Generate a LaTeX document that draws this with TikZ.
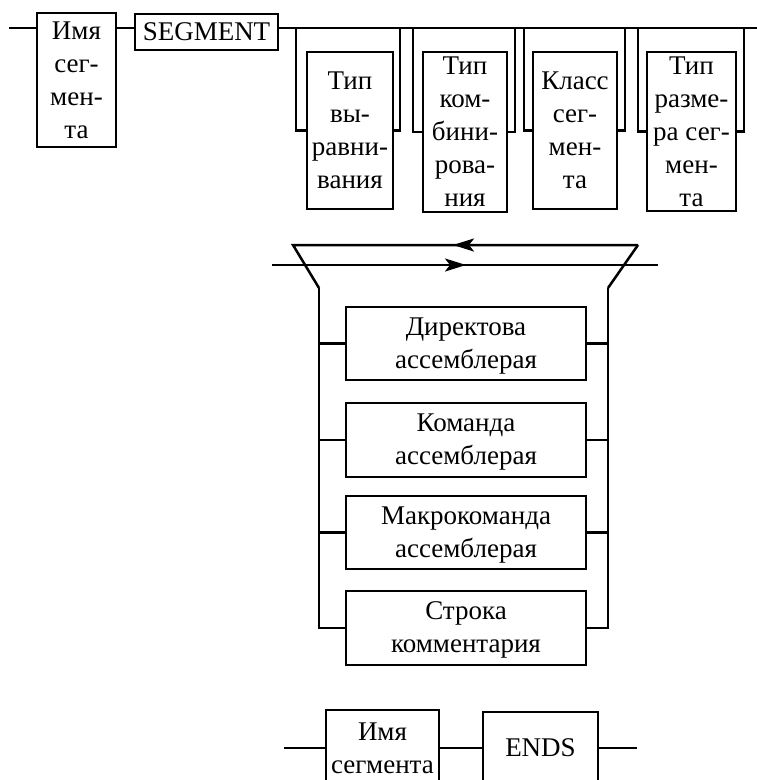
\documentclass[tikz,border=0pt]{standalone}
\usepackage{fontspec}
\setmainfont{Liberation Serif}
\usetikzlibrary{arrows.meta}
\begin{document}
\begin{tikzpicture}[x=1pt,y=-1pt,
  line width=2.5pt,
  lbl/.style={font=\fontsize{27}{33}\selectfont},
  box/.style={draw, rectangle, inner sep=0pt, align=center, lbl},
  stmt/.style={box, minimum width=240pt, text depth=1pt},
  flow/.style={-{Stealth[length=21pt,width=13pt,inset=5pt]}}]
\useasboundingbox (0,0) rectangle (757,780);
\clip (0,0) rectangle (757,780);

% ---- segment header: name, SEGMENT and the four optional attributes
\node[box, minimum width=79pt, minimum height=134pt] (nameA) at (76.5,80)
  {Имя\\сег-\\мен-\\та};
\node[box, minimum width=143pt, minimum height=36pt] (seg) at (206.5,32) {SEGMENT};
\coordinate (start) at (9,28);
\coordinate (endA) at (757,28);
\draw (start) -- (start -| nameA.west);
\draw (nameA.east |- start) -- (seg.west |- start);
\draw (seg.east |- start) -- (endA);

\node[box, minimum width=86pt, minimum height=157pt] (opt1) at (350,130.5)
  {Тип\\вы-\\равни-\\вания};
\node[box, minimum width=84pt, minimum height=160pt] (opt2) at (465,132)
  {Тип\\ком-\\бини-\\рова-\\ния};
\node[box, minimum width=84pt, minimum height=157pt] (opt3) at (575,130.5)
  {Класс\\сег-\\мен-\\та};
\node[box, minimum width=89pt, minimum height=159pt] (opt4) at (691.5,131.5)
  {Тип\\разме-\\ра сег-\\мен-\\та};

\coordinate (in1) at (296,28);  \coordinate (out1) at (400,28);
\coordinate (in2) at (413,28);  \coordinate (out2) at (515,28);
\coordinate (in3) at (524,28);  \coordinate (out3) at (625,28);
\coordinate (in4) at (638,28);  \coordinate (out4) at (744,28);
\foreach \i in {1,2,3,4}{
  \draw (in\i) |- (opt\i.west);
  \draw (opt\i.east) -| (out\i);
}

% ---- body of the segment: repeated choice of statements
\coordinate (topL) at (293,245);
\coordinate (topR) at (638,245);
\coordinate (footL) at (319,288);
\coordinate (footR) at (608,288);
\coordinate (runL) at (272,265);
\coordinate (runR) at (658,265);
\coordinate (backTail) at (474,245);
\coordinate (backTip) at (453,245);
\coordinate (fwdTail) at (444,265);
\coordinate (fwdTip) at (466,265);

\draw (topR) -- (topL) -- (footL);
\draw (topR) -- (footR);
\draw[flow] (backTail) -- (backTip);
\draw (runL) -- (runR);
\draw[flow] (fwdTail) -- (fwdTip);

\node[stmt, minimum height=73pt] (b1) at (466,343.5) {Директова\\ассемблерая};
\node[stmt, minimum height=74pt] (b2) at (466,440) {Команда\\ассемблерая};
\node[stmt, minimum height=73pt] (b3) at (466,532.5) {Макрокоманда\\ассемблерая};
\node[stmt, minimum height=74pt] (b4) at (466,628) {Строка\\комментария};

\draw (footL) |- (b4.west);
\draw (footR) |- (b4.east);
\foreach \b in {b1,b2,b3}{
  \draw (\b.west) -- (\b.west -| footL);
  \draw (\b.east) -- (\b.east -| footR);
}

% ---- segment end
\node[box, minimum width=113pt, minimum height=76pt] (nameB) at (382.5,748)
  {Имя\\сегмента};
\node[box, minimum width=115pt, minimum height=72pt] (ends) at (540.5,748) {ENDS};
\coordinate (lead) at (284,748);
\coordinate (tail) at (637,748);
\draw (lead) -- (nameB.west);
\draw (nameB.east) -- (ends.west);
\draw (ends.east) -- (tail);
\end{tikzpicture}
\end{document}
